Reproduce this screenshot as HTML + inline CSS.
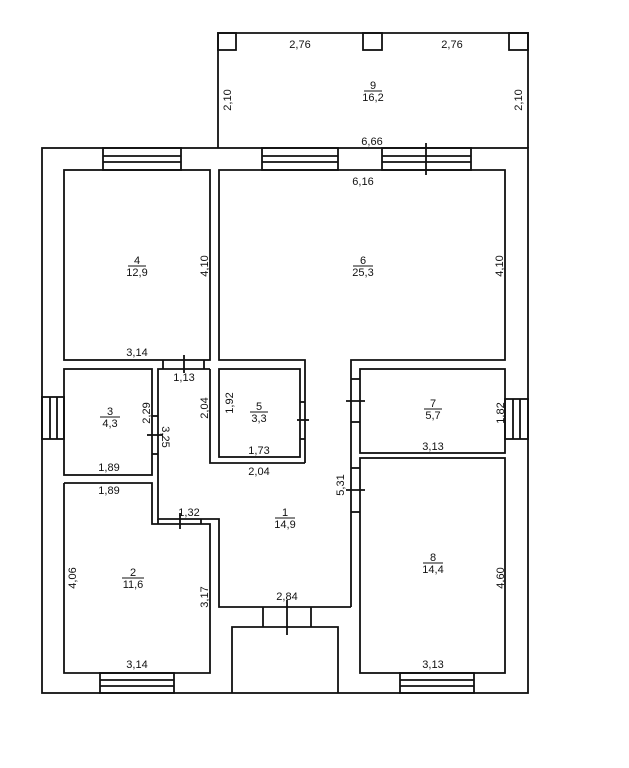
<!DOCTYPE html>
<html><head><meta charset="utf-8"><style>
html,body{margin:0;padding:0;background:#fff;}
svg{display:block}
text{font-family:"Liberation Sans",sans-serif;font-size:11px;fill:#111;text-anchor:middle}
</style></head><body>
<svg width="629" height="768" viewBox="0 0 629 768" xmlns="http://www.w3.org/2000/svg">
<g fill="none" stroke="#111" stroke-width="1.8">
<!-- terrace -->
<polyline points="218,148 218,33 528,33 528,148"/>
<rect x="218" y="33" width="18" height="17"/>
<rect x="363" y="33" width="19" height="17"/>
<rect x="509" y="33" width="19" height="17"/>
<!-- outer wall -->
<rect x="42" y="148" width="486" height="545"/>
<!-- top windows -->
<rect x="103" y="148" width="78" height="22"/><line x1="103" y1="156" x2="181" y2="156"/><line x1="103" y1="162" x2="181" y2="162"/>
<rect x="262" y="148" width="76" height="22"/><line x1="262" y1="156" x2="338" y2="156"/><line x1="262" y1="162" x2="338" y2="162"/>
<rect x="382" y="148" width="89" height="22"/><line x1="382" y1="156" x2="471" y2="156"/><line x1="382" y1="162" x2="471" y2="162"/>
<line x1="426" y1="143" x2="426" y2="175"/>
<!-- room 4 -->
<rect x="64" y="170" width="146" height="190"/>
<!-- room 6 -->
<polyline points="305,463 305,360 219,360 219,170 505,170 505,360 351,360 351,607"/>
<!-- door 1,13 -->
<line x1="163" y1="360" x2="163" y2="369"/><line x1="204" y1="360" x2="204" y2="369"/><line x1="184" y1="355" x2="184" y2="373"/>
<!-- room 3 -->
<rect x="64" y="369" width="88" height="106"/>
<!-- hall -->
<polyline points="210,369 158,369 158,519 219,519 219,607 351,607"/>
<polyline points="210,369 210,463 305,463"/>
<!-- room3 door -->
<line x1="152" y1="416" x2="158" y2="416"/><line x1="152" y1="454" x2="158" y2="454"/><line x1="147" y1="435" x2="163" y2="435"/>
<!-- room 5 -->
<rect x="219" y="369" width="81" height="88"/>
<line x1="300" y1="402" x2="305" y2="402"/><line x1="300" y1="439" x2="305" y2="439"/><line x1="297" y1="420" x2="309" y2="420"/>
<!-- room 2 -->
<polyline points="64,483 152,483 152,524 210,524 210,673 64,673 64,483"/>
<line x1="158" y1="519" x2="158" y2="524"/><line x1="201" y1="519" x2="201" y2="524"/><line x1="180" y1="513" x2="180" y2="529"/>
<!-- entry -->
<line x1="263" y1="607" x2="263" y2="627"/><line x1="311" y1="607" x2="311" y2="627"/>
<polyline points="232,693 232,627 338,627 338,693"/>
<line x1="287" y1="600" x2="287" y2="635"/>
<!-- room 7, 8 -->
<rect x="360" y="369" width="145" height="84"/>
<rect x="360" y="458" width="145" height="215"/>
<line x1="351" y1="379" x2="360" y2="379"/><line x1="351" y1="422" x2="360" y2="422"/><line x1="346" y1="401" x2="365" y2="401"/>
<line x1="351" y1="468" x2="360" y2="468"/><line x1="351" y1="512" x2="360" y2="512"/><line x1="346" y1="490" x2="365" y2="490"/>
<!-- side windows -->
<rect x="42" y="397" width="22" height="42"/><line x1="50" y1="397" x2="50" y2="439"/><line x1="57" y1="397" x2="57" y2="439"/>
<rect x="505" y="399" width="23" height="40"/><line x1="513" y1="399" x2="513" y2="439"/><line x1="520" y1="399" x2="520" y2="439"/>
<!-- bottom windows -->
<rect x="100" y="673" width="74" height="20"/><line x1="100" y1="680" x2="174" y2="680"/><line x1="100" y1="686" x2="174" y2="686"/>
<rect x="400" y="673" width="74" height="20"/><line x1="400" y1="680" x2="474" y2="680"/><line x1="400" y1="686" x2="474" y2="686"/>
</g>
<g stroke="#111" stroke-width="1">
<line x1="364" y1="91" x2="382" y2="91"/>
<line x1="128" y1="266" x2="146" y2="266"/>
<line x1="353" y1="266" x2="373" y2="266"/>
<line x1="100" y1="417" x2="120" y2="417"/>
<line x1="250" y1="412" x2="268" y2="412"/>
<line x1="424" y1="409" x2="442" y2="409"/>
<line x1="275" y1="518" x2="295" y2="518"/>
<line x1="122" y1="578" x2="144" y2="578"/>
<line x1="423" y1="563" x2="443" y2="563"/>
</g>
<g>
<text x="300" y="48">2,76</text><text x="452" y="48">2,76</text>
<text x="373" y="89">9</text><text x="373" y="101">16,2</text>
<text transform="translate(231,100) rotate(-90)">2,10</text>
<text transform="translate(522,100) rotate(-90)">2,10</text>
<text x="372" y="145">6,66</text><text x="363" y="185">6,16</text>
<text x="137" y="264">4</text><text x="137" y="276">12,9</text>
<text transform="translate(208,266) rotate(-90)">4,10</text>
<text transform="translate(503,266) rotate(-90)">4,10</text>
<text x="363" y="264">6</text><text x="363" y="276">25,3</text>
<text x="137" y="356">3,14</text><text x="184" y="381">1,13</text>
<text x="110" y="415">3</text><text x="110" y="427">4,3</text>
<text transform="translate(150,413) rotate(-90)">2,29</text>
<text transform="translate(162,437) rotate(90)">3,25</text>
<text transform="translate(208,408) rotate(-90)">2,04</text>
<text transform="translate(233,403) rotate(-90)">1,92</text>
<text x="259" y="410">5</text><text x="259" y="422">3,3</text>
<text x="259" y="454">1,73</text><text x="259" y="475">2,04</text>
<text x="433" y="407">7</text><text x="433" y="419">5,7</text>
<text transform="translate(504,413) rotate(-90)">1,82</text>
<text x="433" y="450">3,13</text>
<text x="109" y="471">1,89</text><text x="109" y="494">1,89</text>
<text transform="translate(344,485) rotate(-90)">5,31</text>
<text x="189" y="516">1,32</text>
<text x="285" y="516">1</text><text x="285" y="528">14,9</text>
<text x="133" y="576">2</text><text x="133" y="588">11,6</text>
<text transform="translate(76,578) rotate(-90)">4,06</text>
<text transform="translate(208,597) rotate(-90)">3,17</text>
<text x="287" y="600">2,84</text>
<text x="433" y="561">8</text><text x="433" y="573">14,4</text>
<text transform="translate(504,578) rotate(-90)">4,60</text>
<text x="137" y="668">3,14</text><text x="433" y="668">3,13</text>
</g>
</svg>
</body></html>
